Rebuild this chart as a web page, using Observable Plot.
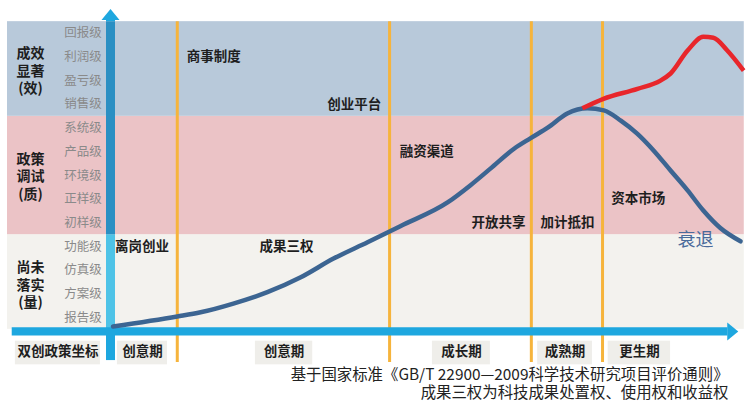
<!DOCTYPE html>
<html>
<head>
<meta charset="utf-8">
<script src="https://cdn.jsdelivr.net/npm/d3@7"></script>
<script src="https://cdn.jsdelivr.net/npm/@observablehq/plot@0.6"></script>
<style>
  html, body { margin: 0; padding: 0; background: #fff; overflow: hidden; }
  body { width: 747px; height: 401px; font-family: "Noto Sans CJK SC", "Noto Sans", sans-serif; }
</style>
</head>
<body>
<div id="chart"></div>
<script>
// ---- Level tick labels (y = 1 .. 13) ----
const levelNames = ["报告级","方案级","仿真级","功能级","初样级","正样级","环境级","产品级","系统级","销售级","盈亏级","利润级","回报级"];

// ---- Bands (effect categories) ----
const bandNames  = ["尚未\n落实\n(量)", "政策\n调试\n(质)", "成效\n显著\n(效)"];
const bandFrom   = [0.5, 4.5, 9.5];
const bandTo     = [4.5, 9.5, 13.5];
const bandLabelY = [2.4, 7.0, 11.45];
const bandColors = ["#f3f2ee", "#ebc3c6", "#b8c9da"];

// ---- Stage boundaries (orange lines) on the time axis (0..100) ----
const stageBounds = [10.6, 44.3, 66.8, 78.1];

// ---- Phase labels below the time axis ----
const phaseNames = ["双创政策坐标", "创意期", "创意期", "成长期", "成熟期", "更生期"];
const phaseFrom  = [-15.1, 1.1, 23.0, 51.1, 67.8, 79.0];
const phaseTo    = [-1.6, 9.05, 32.1, 60.3, 76.5, 88.9];

// ---- Policy labels ----
const policyNames = ["商事制度","创业平台","融资渠道","离岗创业","成果三权","开放共享","加计抵扣","资本市场"];
const policyX     = [12.1, 34.4, 45.9, 0.7, 23.65, 57.3, 68.25, 79.5];
const policyY     = [12, 10, 8, 4, 4, 5, 5, 6];

// ---- Life-cycle curve (blue) ----
const cycleX = [0.4, 10.6, 14.3, 19.5, 24.9, 30.2, 35.4, 40.8, 46.0, 53.5, 57.1, 60.3, 64.0, 66.7, 69.4, 72.5, 75.7, 78.3, 81.0, 83.6, 86.2, 88.9, 91.6, 94.1, 96.8, 100.0];
const cycleY = [0.62, 1.04, 1.22, 1.59, 2.07, 2.70, 3.49, 4.18, 4.86, 5.86, 6.58, 7.29, 8.12, 8.58, 9.02, 9.62, 9.84, 9.75, 9.32, 8.77, 8.06, 7.21, 6.37, 5.52, 4.78, 4.22];

// ---- Renewal curve (red) ----
const renewX = [74.9, 78.25, 83.65, 87.3, 88.9, 91.6, 94.1, 95.7, 97.9, 100.5];
const renewY = [9.84, 10.24, 10.66, 11.01, 11.31, 12.28, 12.86, 12.82, 12.28, 11.43];

// ---- Other texts ----
const declineLabel = "衰退";
const captionLines = ["基于国家标准《GB/T 22900—2009科学技术研究项目评价通则》", "成果三权为科技成果处置权、使用权和收益权"];
const captionY = [-1.45, -2.21];

// build tables
const levels = levelNames.map((name, i) => ({name, y: i + 1}));
const bands = bandNames.map((name, i) => ({name, y1: bandFrom[i], y2: bandTo[i], ly: bandLabelY[i], fill: bandColors[i]}));
const phases = phaseNames.map((name, i) => ({name, x1: phaseFrom[i], x2: phaseTo[i], x: (phaseFrom[i] + phaseTo[i]) / 2}));
const policies = policyNames.map((name, i) => ({name, x: policyX[i], y: policyY[i]}));
const cycle = cycleX.map((x, i) => ({x, y: cycleY[i]}));
const renew = renewX.map((x, i) => ({x, y: renewY[i]}));
const captions = captionLines.map((text, i) => ({text, y: captionY[i]}));

// layout of the axes frame (in data units)
const frameLeft = -16.35, frameRight = 100.6;
const axisColor = "#1ea7df";
const vSegments = [
  {y1: -0.82, y2: 0.5,  c: axisColor},
  {y1: 0.5,   y2: 4.5,  c: "#4ec3e7"},
  {y1: 4.5,   y2: 13.5, c: "#2b8fc3"},
  {y1: 13.5,  y2: 13.57, c: axisColor}
];
const upArrow = {draw(ctx) { ctx.moveTo(0, -11); ctx.lineTo(9, 0); ctx.lineTo(-9, 0); ctx.closePath(); }};
const rightArrow = {draw(ctx) { ctx.moveTo(11, 0); ctx.lineTo(0, 9); ctx.lineTo(0, -9); ctx.closePath(); }};

const chart = Plot.plot({
  width: 747,
  height: 401,
  margin: 0,
  x: {domain: [0, 100], range: [110, 740], axis: null},
  y: {domain: [0, 14], range: [340.67, 9.33], axis: null},
  color: {type: "identity"},
  style: {fontFamily: "'Noto Sans CJK SC', sans-serif", background: "#fff"},
  marks: [
    Plot.rect(bands, {x1: frameLeft, x2: frameRight, y1: "y1", y2: "y2", fill: "fill"}),
    Plot.ruleX(stageBounds, {x: d => d, y1: -0.9, y2: 13.5, stroke: "#f6b43c", strokeWidth: 3}),
    Plot.ruleX(vSegments, {x: 0, y1: "y1", y2: "y2", stroke: "c", strokeWidth: 9}),
    Plot.ruleY([0.41], {x1: -15.6, x2: 98, stroke: axisColor, strokeWidth: 8.3}),
    Plot.dot([0], {x: 0, y: 13.57, symbol: upArrow, fill: axisColor, stroke: null, r: 5}),
    Plot.dot([0], {x: 97.9, y: 0.41, symbol: rightArrow, fill: axisColor, stroke: null, r: 5}),
    Plot.line(cycle, {x: "x", y: "y", curve: "monotone-x", stroke: "#3c6592", strokeWidth: 4.5, strokeLinecap: "round"}),
    Plot.line(renew, {x: "x", y: "y", curve: "monotone-x", stroke: "#e8262b", strokeWidth: 4.5, strokeLinecap: "butt"}),
    Plot.text(policies, {x: "x", y: "y", text: "name", textAnchor: "start", fontSize: 13.5, fontWeight: "bold", fill: "#1e1e1e"}),
    Plot.text([declineLabel], {x: 90, y: 4.25, text: d => d, textAnchor: "start", fontSize: 18, fill: "#4a6b9b"}),
    Plot.rect(phases, {x1: "x1", x2: "x2", y1: -1.0, y2: 0.0, fill: "#efeeea"}),
    Plot.text(phases, {x: "x", y: -0.45, text: "name", fontSize: 13.5, fontWeight: "bold", fill: "#1e1e1e"}),
    Plot.text(levels, {x: -1.4, y: "y", text: "name", textAnchor: "end", fontSize: 12.5, fill: "#8a8a8a"}),
    Plot.text(bands, {x: -12.7, y: "ly", text: "name", fontSize: 14, fontWeight: "bold", lineHeight: 1.25, fill: "#1e1e1e"}),
    Plot.text(captions, {x: 98.1, y: "y", text: "text", textAnchor: "end", fontSize: 15.4, fill: "#222"})
  ]
});
document.getElementById("chart").appendChild(chart);
</script>
</body>
</html>
